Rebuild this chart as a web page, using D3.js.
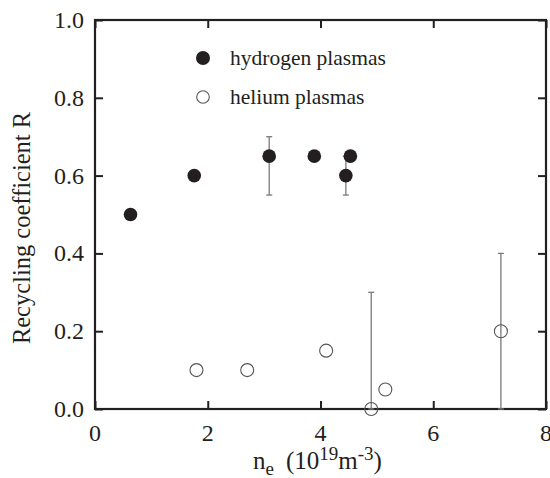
<!DOCTYPE html>
<html>
<head>
<meta charset="utf-8">
<script src="https://d3js.org/d3.v7.min.js"></script>
<style>
  body { margin: 0; background: #fff; }
  text { font-family: "Liberation Serif", "Times New Roman", serif; fill: #231f20; }
</style>
</head>
<body>
<svg id="chart" width="550" height="478"></svg>
<script>
// hydrogen plasmas (filled)
var h2_ne = [0.63, 1.76, 3.09, 3.89, 4.45, 4.53];
var h2_R  = [0.50, 0.60, 0.65, 0.65, 0.60, 0.65];
var h2_lo = [null, null, 0.55, null, 0.55, null];
var h2_hi = [null, null, 0.70, null, 0.65, null];

// helium plasmas (open)
var he_ne = [1.8, 2.7, 4.1, 4.9, 5.15, 7.2];
var he_R  = [0.10, 0.10, 0.15, 0.00, 0.05, 0.20];
var he_lo = [null, null, null, 0.00, null, 0.00];
var he_hi = [null, null, null, 0.30, null, 0.40];

var xTicks = [0, 2, 4, 6, 8];
var yTicks = [0.0, 0.2, 0.4, 0.6, 0.8, 1.0];

var ink = "#231f20";
var svg = d3.select("#chart");
var pl = 95, pr = 546, pt = 20, pb = 409;

var x = d3.scaleLinear().domain([0, 8]).range([pl, pr]);
var y = d3.scaleLinear().domain([0, 1]).range([pb, pt]);

// ticks (inward on all four sides)
var tickLen = 8;
function noDomain(g) { g.select(".domain").remove(); }
svg.append("g").attr("transform", "translate(0," + pb + ")")
  .call(d3.axisBottom(x).tickValues(xTicks).tickSizeInner(-tickLen).tickSizeOuter(0).tickFormat(""))
  .call(noDomain);
svg.append("g").attr("transform", "translate(0," + pt + ")")
  .call(d3.axisTop(x).tickValues(xTicks).tickSizeInner(-tickLen).tickSizeOuter(0).tickFormat(""))
  .call(noDomain);
svg.append("g").attr("transform", "translate(" + pl + ",0)")
  .call(d3.axisLeft(y).tickValues(yTicks).tickSizeInner(-tickLen).tickSizeOuter(0).tickFormat(""))
  .call(noDomain);
svg.append("g").attr("transform", "translate(" + pr + ",0)")
  .call(d3.axisRight(y).tickValues(yTicks).tickSizeInner(-tickLen).tickSizeOuter(0).tickFormat(""))
  .call(noDomain);
svg.selectAll(".tick line").attr("stroke", ink).attr("stroke-width", 2);

// frame
svg.append("rect")
  .attr("x", pl).attr("y", pt)
  .attr("width", pr - pl).attr("height", pb - pt)
  .attr("fill", "none").attr("stroke", ink).attr("stroke-width", 2.2);

// tick labels
svg.selectAll(".xl").data(xTicks).enter().append("text")
  .attr("x", function(d){ return x(d); })
  .attr("y", 441)
  .attr("text-anchor", "middle")
  .attr("font-size", "24px")
  .text(function(d){ return d; });

svg.selectAll(".yl").data(yTicks).enter().append("text")
  .attr("x", 84)
  .attr("y", function(d){ return y(d); })
  .attr("dy", "0.33em")
  .attr("text-anchor", "end")
  .attr("font-size", "24px")
  .text(function(d){ return d3.format(".1f")(d); });

// axis titles
svg.append("text")
  .attr("transform", "translate(30,228) rotate(-90)")
  .attr("text-anchor", "middle")
  .attr("font-size", "24.5px")
  .text("Recycling coefficient R");

var xt = svg.append("text").attr("x", 253).attr("y", 469).attr("font-size", "25px");
xt.append("tspan").text("n");
xt.append("tspan").attr("dy", 6).attr("font-size", "19px").text("e");
xt.append("tspan").attr("dy", -6).attr("dx", 12).text("(10");
xt.append("tspan").attr("dy", -9).attr("font-size", "19px").text("19");
xt.append("tspan").attr("dy", 9).text("m");
xt.append("tspan").attr("dy", -9).attr("font-size", "19px").text("-3");
xt.append("tspan").attr("dy", 9).text(")");

// error bars
function errBars(xs, lo, hi) {
  var idx = d3.range(xs.length).filter(function(i){ return lo[i] !== null; });
  var g = svg.append("g");
  idx.forEach(function(i) {
    g.append("line")
      .attr("x1", x(xs[i])).attr("x2", x(xs[i]))
      .attr("y1", y(lo[i])).attr("y2", y(hi[i]))
      .attr("stroke", "#7a7a7a").attr("stroke-width", 1.3);
    [lo[i], hi[i]].forEach(function(v) {
      g.append("line")
        .attr("x1", x(xs[i]) - 3).attr("x2", x(xs[i]) + 3)
        .attr("y1", y(v)).attr("y2", y(v))
        .attr("stroke", "#7a7a7a").attr("stroke-width", 1.3);
    });
  });
}
errBars(h2_ne, h2_lo, h2_hi);
errBars(he_ne, he_lo, he_hi);

// points
svg.append("g").selectAll("circle").data(d3.range(h2_ne.length)).enter().append("circle")
  .attr("cx", function(i){ return x(h2_ne[i]); })
  .attr("cy", function(i){ return y(h2_R[i]); })
  .attr("r", 6.8)
  .attr("fill", ink);

svg.append("g").selectAll("circle").data(d3.range(he_ne.length)).enter().append("circle")
  .attr("cx", function(i){ return x(he_ne[i]); })
  .attr("cy", function(i){ return y(he_R[i]); })
  .attr("r", 6.5)
  .attr("fill", "none")
  .attr("stroke", "#555")
  .attr("stroke-width", 1.1);

// legend
svg.append("circle").attr("cx", 203).attr("cy", 58).attr("r", 7).attr("fill", ink);
svg.append("text").attr("x", 230).attr("y", 65).attr("font-size", "21.5px").text("hydrogen plasmas");
svg.append("circle").attr("cx", 203).attr("cy", 97).attr("r", 6.3)
  .attr("fill", "none").attr("stroke", "#555").attr("stroke-width", 1.1);
svg.append("text").attr("x", 230).attr("y", 104).attr("font-size", "21.5px").text("helium plasmas");
</script>
</body>
</html>
